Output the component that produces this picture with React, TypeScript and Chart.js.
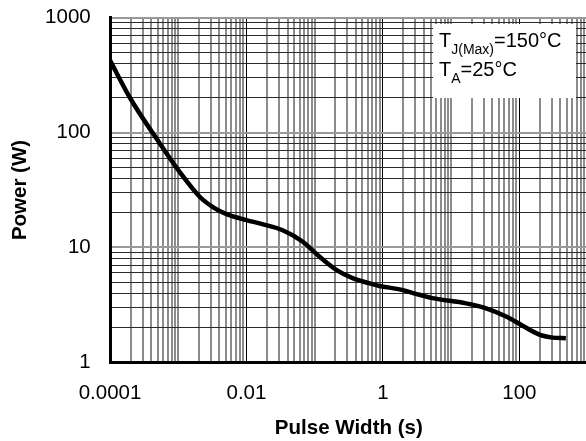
import React, { useEffect, useRef } from "react";
import { Chart, registerables } from "chart.js";

Chart.register(...registerables);

// Curve data (pulse width in s, power in W)
const pulseWidth = [0.0001, 0.0002, 0.00054, 0.00106, 0.00208, 0.0034, 0.0051, 0.01, 0.0175, 0.034, 0.067, 0.118, 0.21, 0.36, 0.64, 0.89, 1.75, 3.44, 5.3, 16.6, 32.6, 64, 112, 196, 307, 480];
const powerW = [425, 197, 80, 45, 27.5, 22, 19.5, 17.3, 15.9, 14.1, 11.2, 8.3, 6.35, 5.41, 4.86, 4.62, 4.31, 3.87, 3.62, 3.26, 2.95, 2.5, 2.08, 1.74, 1.64, 1.62];

// Axes
const xDecades = [0.0001, 0.001, 0.01, 0.1, 1, 10, 100];
const yDecades = [1, 10, 100];
const gridMultipliers = [1, 2, 3, 4, 5, 6, 7, 8, 9];
const xTickValues = [0.0001, 0.01, 1, 100];
const xTickLabels = ["0.0001", "0.01", "1", "100"];
const yTickValues = [1, 10, 100, 1000];
const yTickLabels = ["1", "10", "100", "1000"];
const xMin = 0.0001;
const xMax = 1000;
const yMin = 1;
const yMax = 1000;

const xTitle = "Pulse Width (s)";
const yTitle = "Power (W)";
const noteLine1 = ["T", "J(Max)", "=150°C"];
const noteLine2 = ["T", "A", "=25°C"];

const FONT = "'Liberation Sans', Arial, Helvetica, sans-serif";

function buildGrid(decades: number[], last: number) {
  const out: number[] = [];
  decades.forEach((d) => gridMultipliers.forEach((m) => out.push(m * d)));
  out.push(last);
  return out;
}

function isDecade(v: number) {
  const l = Math.log10(v);
  return Math.abs(l - Math.round(l)) < 1e-6;
}
function isEvenDecade(v: number) {
  const l = Math.log10(v);
  return isDecade(v) && Math.round(l) % 2 === 0;
}
function findLabel(values: number[], labels: string[], v: number) {
  for (let i = 0; i < values.length; i++) {
    if (Math.abs(Math.log10(values[i]) - Math.log10(v)) < 1e-6) return labels[i];
  }
  return "";
}

const notePlugin = {
  id: "notebox",
  afterDraw(chart: any) {
    const ctx = chart.ctx;
    ctx.save();
    ctx.fillStyle = "#ffffff";
    ctx.fillRect(433, 24, 143, 74);
    ctx.fillStyle = "#000";
    ctx.textBaseline = "alphabetic";
    ctx.textAlign = "left";
    const drawLine = (parts: string[], x: number, y: number) => {
      ctx.font = `20px ${FONT}`;
      ctx.fillText(parts[0], x, y);
      x += ctx.measureText(parts[0]).width;
      ctx.font = `14px ${FONT}`;
      ctx.fillText(parts[1], x, y + 6.5);
      x += ctx.measureText(parts[1]).width;
      ctx.font = `20px ${FONT}`;
      ctx.fillText(parts[2], x, y);
    };
    drawLine(noteLine1, 439, 47);
    drawLine(noteLine2, 439, 76);
    ctx.restore();
  },
};

export default function App() {
  const ref = useRef<HTMLCanvasElement | null>(null);
  useEffect(() => {
    if (!ref.current) return;
    const xGrid = buildGrid(xDecades, xMax);
    const yGrid = buildGrid(yDecades, yMax);
    const chart = new Chart(ref.current, {
      type: "scatter",
      data: {
        datasets: [
          {
            data: pulseWidth.map((x, i) => ({ x, y: powerW[i] })),
            showLine: true,
            borderColor: "#000",
            borderWidth: 4.5,
            pointRadius: 0,
            cubicInterpolationMode: "monotone",
            fill: false,
          },
        ],
      },
      options: {
        animation: false,
        responsive: false,
        devicePixelRatio: 1,
        layout: { padding: { left: 0, top: 17.7, right: 12.4, bottom: 0 } },
        plugins: { legend: { display: false }, tooltip: { enabled: false } },
        scales: {
          x: {
            type: "logarithmic",
            min: xMin,
            max: xMax,
            position: "bottom",
            afterBuildTicks: (s: any) => {
              s.ticks = xGrid.map((v) => ({ value: v }));
            },
            afterFit: (s: any) => {
              s.height = 78.7;
              s.paddingLeft = 0;
              s.paddingRight = 0;
            },
            ticks: {
              autoSkip: false,
              maxRotation: 0,
              minRotation: 0,
              padding: 19,
              color: "#000",
              font: { family: FONT, size: 20.5 },
              callback: (v: any) => findLabel(xTickValues, xTickLabels, Number(v)),
            },
            grid: {
              drawTicks: false,
              color: (c: any) => (isEvenDecade(c.tick.value) ? "#000" : "#8c8c8c"),
              lineWidth: (c: any) => (isEvenDecade(c.tick.value) ? 1 : 2),
            },
            border: { color: "#000", width: 3 },
            title: {
              display: true,
              text: xTitle,
              color: "#000",
              font: { family: FONT, size: 20.5, weight: "bold" },
              padding: { top: 0, bottom: 0 },
            },
          },
          y: {
            type: "logarithmic",
            min: yMin,
            max: yMax,
            position: "left",
            afterBuildTicks: (s: any) => {
              s.ticks = yGrid.map((v) => ({ value: v }));
            },
            afterFit: (s: any) => {
              s.width = 110;
              s.paddingTop = 0;
              s.paddingBottom = 0;
            },
            ticks: {
              autoSkip: false,
              padding: 19.3,
              color: "#000",
              font: { family: FONT, size: 20.5 },
              callback: (v: any) => findLabel(yTickValues, yTickLabels, Number(v)),
            },
            grid: {
              drawTicks: false,
              color: (c: any) => (isDecade(c.tick.value) ? "#999999" : "#2a2a2a"),
              lineWidth: (c: any) => (isDecade(c.tick.value) ? 2 : 1),
            },
            border: { color: "#000", width: 3 },
            title: {
              display: true,
              text: yTitle,
              color: "#000",
              font: { family: FONT, size: 20.5, weight: "bold" },
              padding: { top: 8, bottom: 0 },
            },
          },
        },
      },
      plugins: [notePlugin],
    } as any);
    return () => chart.destroy();
  }, []);
  return (
    <div
      style={{
        position: "fixed",
        left: 0,
        top: 0,
        width: 586,
        height: 441,
        overflow: "hidden",
        background: "#fff",
      }}
    >
      <canvas ref={ref} width={600} height={441} style={{ width: 600, height: 441, display: "block" }} />
    </div>
  );
}
